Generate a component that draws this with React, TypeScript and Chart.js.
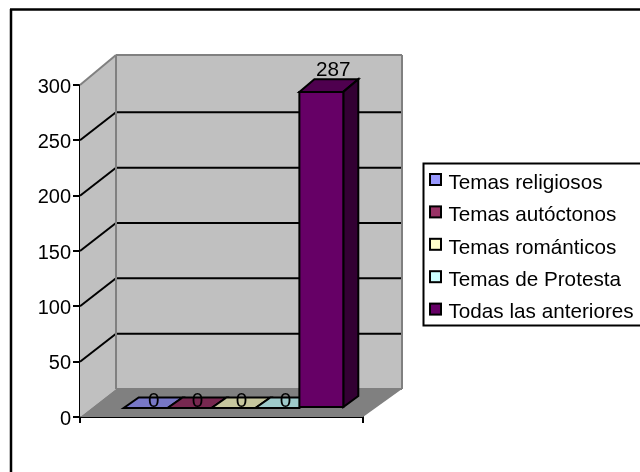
import React, { useEffect, useRef } from "react";
import { Chart, registerables } from "chart.js";

Chart.register(...registerables);

const categories = [""];
const seriesNames = ["Temas religiosos", "Temas autóctonos", "Temas románticos", "Temas de Protesta", "Todas las anteriores"];
const seriesValues = [0, 0, 0, 0, 287];
const seriesColors = ["#9999FF", "#993366", "#FFFFCC", "#CCFFFF", "#660066"];
const topColors = ["#7777C6", "#772850", "#C6C69E", "#9ECACA", "#4F004F"];
const sideColors = ["#55558E", "#551C39", "#8E8E71", "#718E8E", "#330033"];

const FONT = "Liberation Sans, Arial, sans-serif";
const AREA = { left: 80, right: 363, top: 85, bottom: 417 };
const WALL = { dxLeft: 36, dxRight: 39, dy: 28 };
const BAR_OFFSET = { dx: 12, dyBase: 9, dyTop: 7.5 };
const BAR_DEPTH = { dx: 15, dyTop: 12.7, dyBase: 11 };

function poly(ctx: CanvasRenderingContext2D, pts: number[][], fill: string | null, stroke: string | null, w = 2) {
  ctx.beginPath();
  pts.forEach((p, i) => (i ? ctx.lineTo(p[0], p[1]) : ctx.moveTo(p[0], p[1])));
  ctx.closePath();
  if (fill) { ctx.fillStyle = fill; ctx.fill(); }
  if (stroke) { ctx.strokeStyle = stroke; ctx.lineWidth = w; ctx.lineJoin = "miter"; ctx.stroke(); }
}

function line(ctx: CanvasRenderingContext2D, a: number[], b: number[], color: string, w = 2) {
  ctx.beginPath();
  ctx.moveTo(a[0], a[1]);
  ctx.lineTo(b[0], b[1]);
  ctx.strokeStyle = color;
  ctx.lineWidth = w;
  ctx.stroke();
}

const frame3d = {
  id: "frame3d",
  beforeDatasetsDraw(chart: any) {
    const { ctx, chartArea: a, scales } = chart;
    const bx = a.left + WALL.dxLeft, by = a.bottom - WALL.dy, tx = a.right + WALL.dxRight, ty = a.top - 30;
    ctx.save();
    // outer chart frame
    line(ctx, [10, 9.5], [640, 9.5], "#000", 2.5);
    line(ctx, [11, 9], [11, 472], "#000", 2.5);
    // walls and floor
    poly(ctx, [[a.left, a.top], [bx, ty], [bx, by], [a.left, a.bottom]], "#C0C0C0", null);
    poly(ctx, [[bx, ty], [tx, ty], [tx, by], [bx, by]], "#C0C0C0", null);
    poly(ctx, [[a.left, a.bottom], [a.right, a.bottom], [tx, by], [bx, by]], "#808080", null);
    // gridlines on both walls
    (scales.y.ticks as any[]).forEach((t) => {
      if (t.value === 0 || t.value === 300) return;
      const y = scales.y.getPixelForValue(t.value);
      line(ctx, [a.left, y], [bx, y - WALL.dy], "#000", 2);
      line(ctx, [bx, y - WALL.dy], [tx, y - WALL.dy], "#000", 2);
    });
    // wall edges
    line(ctx, [a.left, a.top], [bx, ty], "#808080", 2);
    line(ctx, [bx, ty], [tx, ty], "#808080", 2);
    line(ctx, [bx, ty], [bx, by], "#808080", 2);
    line(ctx, [tx, ty], [tx, by], "#808080", 2);
    line(ctx, [bx, by], [tx, by], "#808080", 2);
    ctx.restore();
  },
  beforeDatasetDraw() {
    return false;
  },
  afterDatasetsDraw(chart: any) {
    const { ctx } = chart;
    ctx.save();
    chart.data.datasets.forEach((ds: any, i: number) => {
      const el = chart.getDatasetMeta(i).data[0];
      const half = el.width / 2;
      const l = el.x - half + BAR_OFFSET.dx, r = el.x + half + BAR_OFFSET.dx;
      const b = el.base - BAR_OFFSET.dyBase;
      const flat = ds.data[0] === 0;
      const t = flat ? b : el.y - BAR_OFFSET.dyTop;
      const dyT = flat ? BAR_DEPTH.dyBase - 0.5 : BAR_DEPTH.dyTop;
      const dx = BAR_DEPTH.dx;
      poly(ctx, [[l, t], [r, t], [r + dx, t - dyT], [l + dx, t - dyT]], topColors[i], "#000");
      if (!flat) {
        poly(ctx, [[r, t], [r + dx, t - dyT], [r + dx, b - BAR_DEPTH.dyBase], [r, b]], sideColors[i], "#000");
        poly(ctx, [[l, t], [r, t], [r, b], [l, b]], ds.backgroundColor, "#000");
      }
    });
    ctx.fillStyle = "#000";
    ctx.font = `20.7px ${FONT}`;
    ctx.textAlign = "center";
    ctx.textBaseline = "middle";
    chart.data.datasets.forEach((ds: any, i: number) => {
      const el = chart.getDatasetMeta(i).data[0];
      const flat = ds.data[0] === 0;
      const x = el.x + BAR_OFFSET.dx + (flat ? 8 : 12);
      const y = flat ? el.base - BAR_OFFSET.dyBase - 7 : el.y - BAR_OFFSET.dyTop - BAR_DEPTH.dyTop - 9;
      ctx.fillText(String(ds.data[0]), x, y);
    });
    ctx.restore();
  },
  afterDraw(chart: any) {
    const { ctx } = chart;
    ctx.save();
    // legend
    const L = { x: 423.5, y: 163.5, w: 230, h: 162 };
    ctx.fillStyle = "#fff";
    ctx.fillRect(L.x, L.y, L.w, L.h);
    ctx.strokeStyle = "#000";
    ctx.lineWidth = 2;
    ctx.strokeRect(L.x, L.y, L.w, L.h);
    ctx.font = `20.7px ${FONT}`;
    ctx.textAlign = "left";
    ctx.textBaseline = "middle";
    chart.data.datasets.forEach((ds: any, i: number) => {
      const cy = 180 + i * 32.4;
      ctx.fillStyle = ds.backgroundColor;
      ctx.fillRect(430, cy - 6, 11, 11);
      ctx.strokeStyle = "#000";
      ctx.lineWidth = 2;
      ctx.strokeRect(430, cy - 6, 11, 11);
      ctx.fillStyle = "#000";
      ctx.fillText(ds.label, 448.5, cy + 3);
    });
    ctx.restore();
  },
};

export default function App() {
  const ref = useRef<HTMLCanvasElement>(null);
  useEffect(() => {
    document.body.style.margin = "0";
    const chart = new Chart(ref.current!, {
      type: "bar",
      data: {
        labels: categories,
        datasets: seriesNames.map((name, i) => ({
          label: name,
          data: [seriesValues[i]],
          backgroundColor: seriesColors[i],
          categoryPercentage: 0.776,
          barPercentage: 1,
        })),
      },
      options: {
        responsive: false,
        animation: false,
        layout: { padding: { top: AREA.top, right: 640 - AREA.right, left: 0, bottom: 0 } },
        plugins: { legend: { display: false }, title: { display: false }, tooltip: { enabled: false } },
        scales: {
          x: {
            afterFit: (s: any) => { s.height = 472 - AREA.bottom; },
            border: { color: "#000", width: 2 },
            grid: { drawOnChartArea: false, color: "#000", lineWidth: 2, tickLength: 6 },
            ticks: { display: false },
          },
          y: {
            min: 0,
            max: 300,
            afterFit: (s: any) => { s.width = AREA.left; },
            border: { color: "#000", width: 2 },
            grid: { drawOnChartArea: false, color: "#000", lineWidth: 2, tickLength: 7 },
            ticks: { stepSize: 50, color: "#000", padding: 2, labelOffset: 2, font: { family: FONT, size: 20 } },
          },
        },
      },
      plugins: [frame3d],
    } as any);
    return () => chart.destroy();
  }, []);
  return <canvas ref={ref} width={640} height={472} style={{ display: "block" }} />;
}
